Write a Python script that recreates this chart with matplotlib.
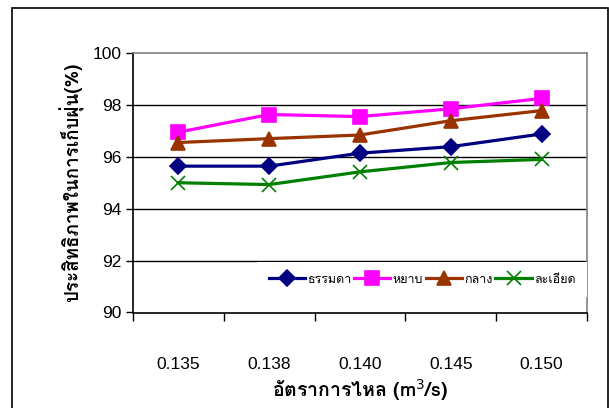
import matplotlib
matplotlib.use("Agg")
import matplotlib.pyplot as plt
from matplotlib import font_manager
from matplotlib.ft2font import FT2Font
from matplotlib.patches import Rectangle
import numpy as np

# data
flow_labels = ["0.135", "0.138", "0.140", "0.145", "0.150"]
normal = [95.64, 95.64, 96.14, 96.39, 96.88]     # ธรรมดา
coarse = [96.95, 97.63, 97.55, 97.85, 98.25]     # หยาบ
medium = [96.55, 96.70, 96.84, 97.39, 97.78]     # กลาง
fine = [95.00, 94.93, 95.42, 95.78, 95.90]       # ละเอียด
series_names = ["ธรรมดา", "หยาบ", "กลาง", "ละเอียด"]
y_ticks = [90, 92, 94, 96, 98, 100]


def find_thai_font():
    """Return the name of an installed family that has Thai glyphs, if any."""
    for f in font_manager.fontManager.ttflist:
        try:
            cmap = FT2Font(f.fname).get_charmap()
        except Exception:
            continue
        if 0x0E01 in cmap and 0x0E2D in cmap:
            return f.name
    return None


thai = find_thai_font()
families = ([thai] if thai else []) + ["Liberation Sans", "DejaVu Sans"]
plt.rcParams["font.family"] = ["Liberation Sans", "DejaVu Sans"]

fig = plt.figure(figsize=(6.09, 4.08), dpi=100)
ax = fig.add_axes([133 / 609, 1 - 312.5 / 408, (587 - 133) / 609, (312.5 - 53) / 408])

# outer chart border
fig.patches.append(Rectangle((12 / 609, -0.1), (608 - 12) / 609, 1.1 - 8 / 408,
                             transform=fig.transFigure, fill=False,
                             edgecolor="black", linewidth=1.2, clip_on=False))

x = np.arange(len(flow_labels))
styles = [
    (normal, "#000080", "D", 8.5),
    (coarse, "#FF00FF", "s", 9.5),
    (medium, "#993300", "^", 9.5),
    (fine, "#008000", "x", 10),
]
for (vals, color, marker, ms), name in zip(styles, series_names):
    ax.plot(x, vals, color=color, linewidth=2.3, marker=marker, markersize=ms,
            markerfacecolor=color, markeredgecolor=color, markeredgewidth=1.2,
            label=name, zorder=3)

ax.set_ylim(90, 100)
ax.set_yticks(y_ticks)
ax.set_yticklabels([str(v) for v in y_ticks], fontsize=12.5)
ax.set_xlim(-0.5, len(flow_labels) - 0.5)

# ticks at category boundaries, labels at category centres
ax.set_xticks(np.arange(-0.5, len(flow_labels), 1.0))
ax.set_xticklabels([])
ax.set_xticks(x, minor=True)
ax.set_xticklabels(flow_labels, minor=True, fontsize=12.5)
ax.tick_params(axis="x", which="major", direction="out", length=6, width=1)
ax.tick_params(axis="x", which="minor", length=0, pad=32)
ax.tick_params(axis="y", direction="out", length=5, width=1, pad=3)

for v in y_ticks[1:-1]:
    ax.axhline(v, color="black", linewidth=1, zorder=1)

ax.spines["left"].set_color("black")
ax.spines["bottom"].set_color("black")
ax.spines["top"].set_color("#808080")
ax.spines["right"].set_color("#808080")
for s in ax.spines.values():
    s.set_linewidth(1.2)

ax.set_ylabel("ประสิทธิภาพในการเก็บฝุ่น(%)", fontsize=13.5, fontweight="bold",
              family=families, labelpad=6)
ax.set_xlabel("อัตราการไหล (m$^3$/s)", fontsize=14, fontweight="bold",
              family=families, labelpad=4)

leg = ax.legend(loc="lower right", bbox_to_anchor=(1.0, 0.06), ncol=4,
                frameon=True, facecolor="white", edgecolor="none", framealpha=1,
                fancybox=False, handlelength=2.9, handletextpad=0.2,
                columnspacing=0.2, borderpad=0.9, borderaxespad=0,
                prop={"family": families, "size": 9})
leg.set_zorder(5)

fig.savefig("out.png", dpi=100)
